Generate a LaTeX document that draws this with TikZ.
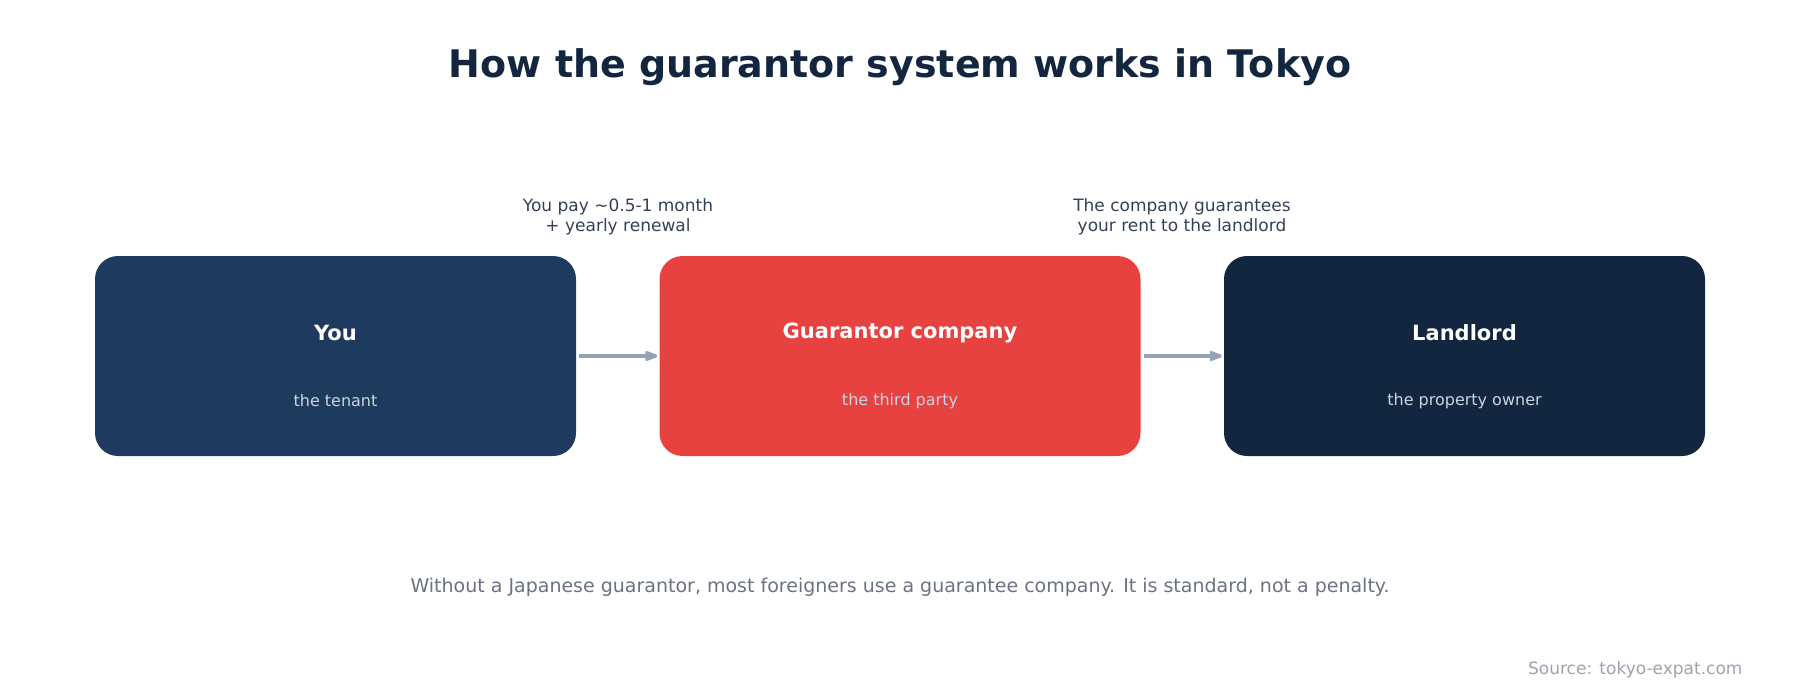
\documentclass[tikz,border=0pt]{standalone}
\usepackage{fontspec}
\setmainfont{DejaVu Sans}
\usetikzlibrary{positioning,arrows.meta}
\definecolor{navy}{HTML}{1F3A5F}
\definecolor{coral}{HTML}{E74240}
\definecolor{ink}{HTML}{12263F}
\definecolor{slate}{HTML}{94A3B8}
\definecolor{pale}{HTML}{CBD5E1}
\definecolor{note}{HTML}{334155}
\definecolor{grey}{HTML}{6B7280}
\definecolor{soft}{HTML}{9CA3AF}
\tikzset{>={Stealth[round]},
  party/.style={rounded corners=23pt,minimum width=481pt,minimum height=200pt,inner sep=0pt},
  head/.style={text=white,font=\fontsize{21}{25}\selectfont\bfseries},
  sub/.style={text=pale,font=\fontsize{16}{19}\selectfont},
  note/.style={text=note,font=\fontsize{17}{20}\selectfont,align=center},
  link/.style={->,slate,line width=3.5pt,shorten >=2pt}}
\begin{document}
\begin{tikzpicture}[x=1pt,y=-1pt]
\useasboundingbox (0,0) rectangle (1800,690);
\node[text=ink,font=\fontsize{38}{44}\selectfont\bfseries] (title) at (900,67) {How the guarantor system works in Tokyo};

\node[party,fill=navy] (you) at (335.5,356) {};
\node[party,fill=coral] (guar) at (900,356) {};
\node[party,fill=ink] (land) at (1464.5,356) {};

\node[head] (youh) at (335.5,333) {You};
\node[sub] (yous) at (335.5,401) {the tenant};
\node[head] (guarh) at (900,333) {Guarantor company};
\node[sub] (guars) at (900,401) {the third party};
\node[head] (landh) at (1464.5,333) {Landlord};
\node[sub] (lands) at (1464.5,401) {the property owner};

\draw[link] (you.east) ++(3,0) coordinate (a1) (a1) -- (guar.west);
\draw[link] (guar.east) ++(3,0) coordinate (a2) (a2) -- (land.west);

\node[note] (pay) at (618,217) {You pay \textasciitilde0.5-1 month\\+ yearly renewal};
\node[note] (rent) at (1182,217) {The company guarantees\\your rent to the landlord};

\node[text=grey,font=\fontsize{19}{23}\selectfont] (foot) at (900,587) {Without a Japanese guarantor, most foreigners use a guarantee company. It is standard, not a penalty.};
\node[text=soft,font=\fontsize{17}{20}\selectfont,anchor=east] (src) at (1746,670) {Source: tokyo-expat.com};
\end{tikzpicture}
\end{document}
